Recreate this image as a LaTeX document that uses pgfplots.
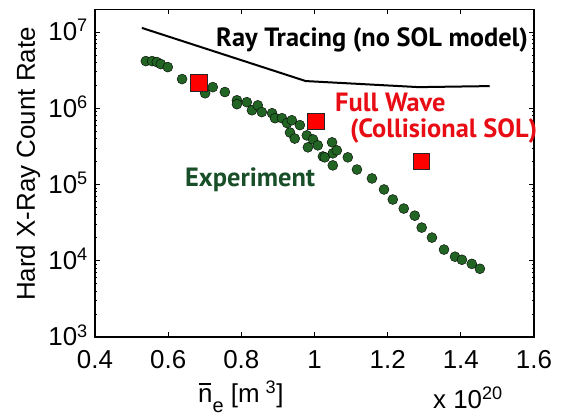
\documentclass[border=0pt]{standalone}
\usepackage{pgfplots}
\pgfplotsset{compat=1.18}
\usepackage{fontspec}
\setmainfont{Liberation Sans}
\newfontfamily\annfont{PT Sans}

\definecolor{expgreen}{RGB}{34,100,36}
\definecolor{exptext}{RGB}{24,78,40}
\definecolor{fwred}{RGB}{232,12,20}
\definecolor{sqred}{RGB}{255,0,0}

% n with an overbar (line-averaged density)
\newcommand{\nbar}{\rlap{\hspace{0.05em}\rule[0.66em]{0.46em}{0.075em}}n}

\begin{document}
\begin{tikzpicture}
% fixed page frame around the axis box
\useasboundingbox (-95bp,-81bp) rectangle (473bp,337bp);
\begin{axis}[
  scale only axis,
  width=439bp, height=327.5bp,
  at={(0,0)}, anchor=south west,
  xmin=0.4, xmax=1.6,
  ymode=log, ymin=1e3, ymax=1.97e7,
  xtick={0.4,0.6,0.8,1.0,1.2,1.4,1.6},
  xticklabels={0.4,0.6,0.8,1,1.2,1.4,1.6},
  ytick={1e3,1e4,1e5,1e6,1e7},
  yticklabels={10\textsuperscript{3},10\textsuperscript{4},10\textsuperscript{5},10\textsuperscript{6},10\textsuperscript{7}},
  tick align=inside,
  major tick length=5bp, minor tick length=2.5bp,
  axis line style={line width=1.6bp},
  every tick/.style={black, line width=0.8bp},
  tick label style={font=\fontsize{26}{30}\selectfont, inner sep=0pt},
  xticklabel style={anchor=base, yshift=-32bp},
  yticklabel style={anchor=base east, xshift=-7bp, yshift=-9bp},
  clip=false,
]
% measured count rate
\addplot[only marks, mark=*, mark size=5bp, mark options={draw=none, fill=expgreen}]
coordinates {
(0.539,4.15e6) (0.556,4.15e6) (0.569,4.03e6) (0.580,3.79e6) (0.599,3.46e6)
(0.638,2.41e6) (0.701,1.57e6) (0.722,1.89e6) (0.755,1.63e6) (0.788,1.27e6)
(0.788,1.13e6) (0.815,1.20e6) (0.829,9.4e5) (0.845,1.09e6) (0.856,8.9e5)
(0.884,8.6e5) (0.892,7.4e5) (0.911,7.4e5) (0.925,6.4e5) (0.938,6.95e5)
(0.933,4.8e5) (0.946,4.0e5) (0.960,6.0e5) (0.979,4.4e5) (0.982,3.07e5)
(0.996,3.9e5) (1.009,3.26e5) (1.023,2.33e5) (1.028,2.27e5) (1.048,3.57e5)
(1.050,2.56e5) (1.061,2.8e5) (1.050,1.78e5) (1.091,2.27e5) (1.116,1.57e5)
(1.157,1.2e5) (1.190,8.6e4) (1.214,6.35e4) (1.244,4.83e4) (1.274,3.9e4)
(1.293,2.72e4) (1.321,2.01e4) (1.354,1.40e4) (1.384,1.13e4) (1.403,1.03e4)
(1.430,9.1e3) (1.452,7.85e3)
};
% ray tracing without SOL model
\addplot[black, line width=2bp, mark=none]
coordinates {(0.528,1.13e7) (0.976,2.27e6) (1.285,1.89e6) (1.479,1.95e6)};
% full-wave with collisional SOL
\addplot[only marks, mark=square*, mark size=8.3bp,
  mark options={fill=sqred, draw=black!85, line width=1bp}]
coordinates {(0.684,2.14e6) (1.004,6.7e5) (1.293,2.0e5)};
\end{axis}

% annotations
\node[anchor=base west, inner sep=0pt, font=\annfont\bfseries\fontsize{26.5}{30}\selectfont]
  at (121bp,290bp) {Ray Tracing (no SOL model)};
\node[anchor=base west, inner sep=0pt, text=fwred, font=\annfont\bfseries\fontsize{26.5}{30}\selectfont]
  at (240bp,225bp) {Full Wave};
\node[anchor=base west, inner sep=0pt, text=fwred, font=\annfont\bfseries\fontsize{26.5}{30}\selectfont]
  at (255bp,199bp) {(Collisional SOL)};
\node[anchor=base west, inner sep=0pt, text=exptext, font=\annfont\bfseries\fontsize{26.5}{30}\selectfont]
  at (90bp,150bp) {Experiment};

% axis labels
\node[anchor=base, rotate=90, inner sep=0pt, font=\fontsize{26}{30}\selectfont]
  at (-60bp,173bp) {Hard X-Ray Count Rate};
\node[anchor=base west, inner sep=0pt, font=\fontsize{26}{30}\selectfont]
  at (103bp,-65bp) {\nbar\raisebox{-0.4em}{\fontsize{20}{20}\selectfont e} [m\textsuperscript{\phantom{-}3}]};
\node[anchor=base west, inner sep=0pt, font=\fontsize{26}{30}\selectfont]
  at (338bp,-71bp) {x 10\textsuperscript{20}};
\end{tikzpicture}
\end{document}
